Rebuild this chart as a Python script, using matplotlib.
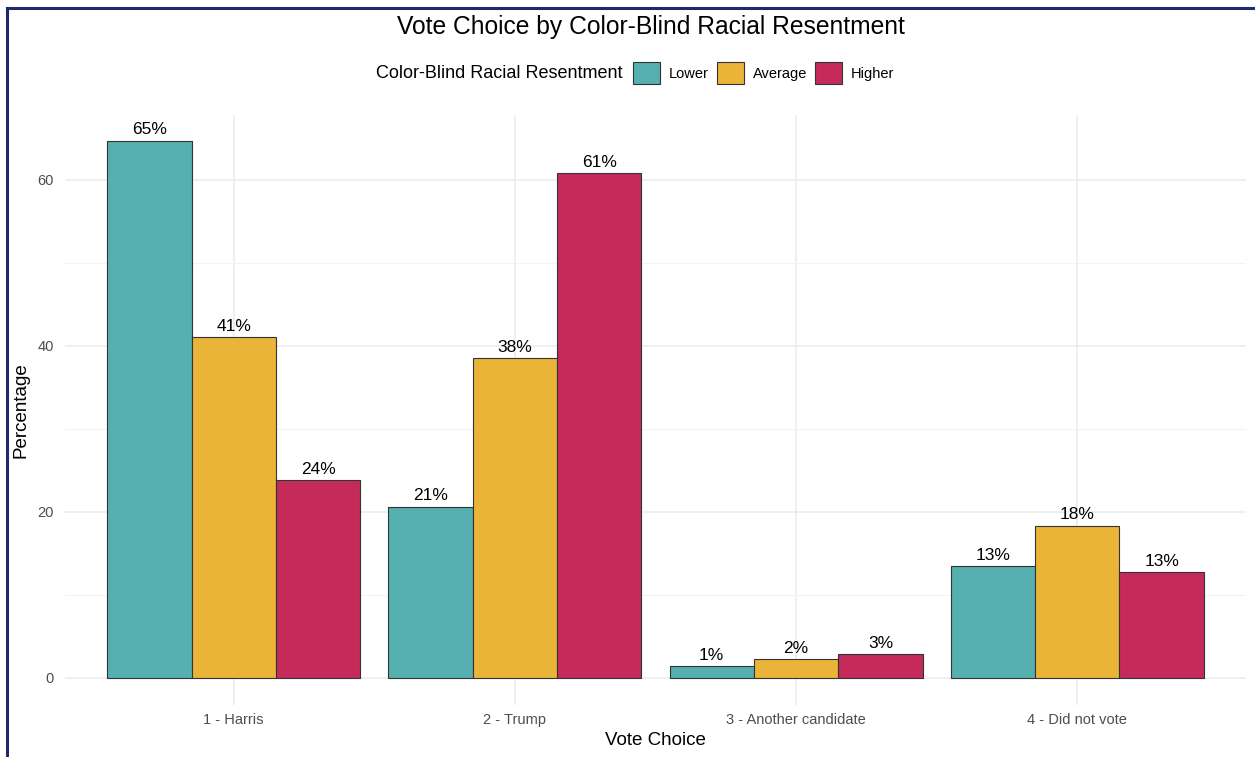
import numpy as np
import matplotlib
matplotlib.use("Agg")
import matplotlib.pyplot as plt
from matplotlib.patches import Patch
from matplotlib.lines import Line2D

# data
categories = ["1 - Harris", "2 - Trump", "3 - Another candidate", "4 - Did not vote"]
groups = ["Lower", "Average", "Higher"]
lower = [64.7, 20.6, 1.4, 13.4]
average = [41.0, 38.5, 2.2, 18.3]
higher = [23.8, 60.8, 2.8, 12.7]
colors = ["#56B0AF", "#EAB438", "#C42B5A"]

plt.rcParams['font.family'] = ['Liberation Sans', 'DejaVu Sans']

fig = plt.figure(figsize=(12.55, 7.57), dpi=100)
ax = fig.add_axes([65 / 1255, 52 / 757, (1246 - 65) / 1255, (705 - 115) / 757])

x = np.arange(len(categories))
width = 0.3
series = [lower, average, higher]
for i, vals in enumerate(series):
    pos = x + (i - 1) * width
    ax.bar(pos, vals, width=width, color=colors[i], edgecolor="#333333",
           linewidth=0.8, zorder=3)
    for px, v in zip(pos, vals):
        ax.text(px, v + 0.4, f"{round(v)}%", ha="center", va="bottom",
                fontsize=12.5, color="black", zorder=4)

ax.set_xlim(-0.6, len(categories) - 0.4)
ax.set_ylim(-3.3, 67.8)
ax.set_yticks([0, 20, 40, 60])
ax.set_yticks([10, 30, 50], minor=True)
ax.set_xticks(x)
ax.set_xticklabels(categories)

ax.grid(axis="y", which="major", color="#EBEBEB", linewidth=1.1, zorder=0)
ax.grid(axis="y", which="minor", color="#F3F3F3", linewidth=0.8, zorder=0)
ax.grid(axis="x", which="major", color="#EBEBEB", linewidth=1.1, zorder=0)
for s in ax.spines.values():
    s.set_visible(False)
ax.tick_params(axis="both", which="both", length=0, labelsize=10.5,
               labelcolor="#4D4D4D")
ax.tick_params(axis="x", pad=6)
ax.tick_params(axis="y", pad=8)

ax.set_xlabel("Vote Choice", fontsize=13.5, labelpad=3.5)
ax.set_ylabel("Percentage", fontsize=13.5, labelpad=6)

fig.text(0.5185, 1 - 27 / 757, "Vote Choice by Color-Blind Racial Resentment",
         ha="center", va="center", fontsize=17.7)

# legend with the title on the left
fig.text(623 / 1255, 1 - 73 / 757, "Color-Blind Racial Resentment",
         ha="right", va="center", fontsize=13)
handles = [Patch(facecolor=c, edgecolor="#333333", linewidth=0.8) for c in colors]
fig.legend(handles, groups, loc="center left",
           bbox_to_anchor=(623 / 1255, 1 - 73 / 757), ncol=3, frameon=False,
           fontsize=10.5, handlelength=1.85, handleheight=1.85,
           handletextpad=0.6, columnspacing=0.55, borderpad=0.2)

# border around the picture
fig.add_artist(Line2D([7 / 1255, 7 / 1255], [0, 1 - 8 / 757],
                      color="#1F2A6B", linewidth=2.2))
fig.add_artist(Line2D([7 / 1255, 1], [1 - 8 / 757, 1 - 8 / 757],
                      color="#1F2A6B", linewidth=2.2))

fig.savefig("out.png", dpi=100, facecolor="white")
